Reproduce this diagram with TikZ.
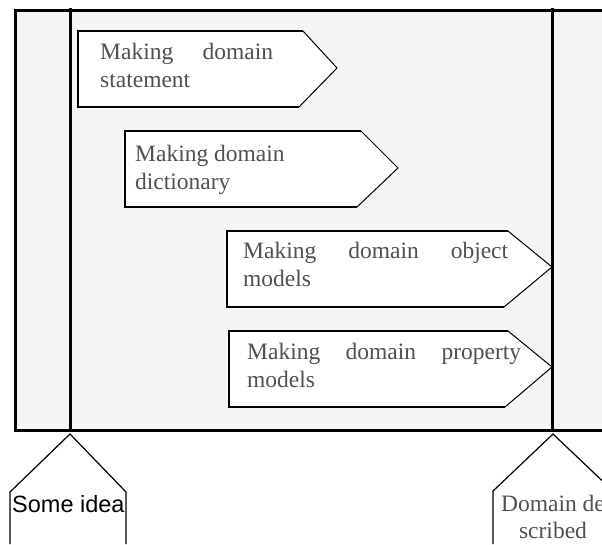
\documentclass[tikz,border=0pt]{standalone}
\usepackage{fontspec}
\setmainfont{Liberation Serif}
\newfontfamily\labelsans{Liberation Sans}
\definecolor{lanefill}{RGB}{245,245,245}
\definecolor{inktext}{RGB}{80,80,80}

\tikzset{
  laneline/.style={line width=3pt, black},
  boxedge/.style={line width=1.8pt, black, line join=miter},
  boxtip/.style={line width=1pt, black},
  tagline/.style={line width=1.2pt, black},
  steptext/.style={inner sep=0pt, text=inktext,
    font=\fontsize{23.5}{28.5}\selectfont},
  ideatext/.style={inner sep=0pt, text=black,
    font=\labelsans\fontsize{23.5}{28}\selectfont},
  resulttext/.style={inner sep=0pt, text=inktext,
    font=\fontsize{23.5}{27}\selectfont},
}

% process arrow: left, top, bottom, notch x (top), notch x (bottom), tip x, tip y
\newcommand\procbox[7]{%
  \fill[white] (#1,#2) -- (#4,#2) -- (#6,#7) -- (#5,#3) -- (#1,#3) -- cycle;
  \draw[boxedge] (#5,#3) -- (#1,#3) -- (#1,#2) -- (#4,#2);
  \draw[boxtip] (#4,#2) -- (#6,#7) -- (#5,#3);
}

\begin{document}
\begin{tikzpicture}[x=1pt, y=-1pt]
  \useasboundingbox (0,0) rectangle (602,544);
  \clip (0,0) rectangle (602,544);

  % swim lane background and frame
  \fill[lanefill] (15,10) rectangle (602,430);
  \draw[laneline] (602,10) -- (15,10) -- (15,430) -- (602,430);
  \draw[laneline] (70,8) -- (70,432);
  \draw[laneline] (552,8) -- (552,432);

  % process steps
  \procbox{78}{31}{107}{303}{299}{337}{68}
  \node[steptext, anchor=base west] (stmt) at (100,59)
    {\parbox[t]{173pt}{\makebox[173pt][s]{Making domain}\\statement}};

  \procbox{125}{131}{207}{361}{357}{398}{168}
  \node[steptext, anchor=base west] (dict) at (135,161)
    {\parbox[t]{200pt}{Making domain\\dictionary}};

  \procbox{227}{231}{307}{508}{504}{552}{267}
  \node[steptext, anchor=base west] (objm) at (243,258)
    {\parbox[t]{265pt}{\makebox[265pt][s]{Making domain object}\\models}};

  \procbox{229}{331}{407}{508}{505}{552}{367}
  \node[steptext, anchor=base west] (propm) at (247,359)
    {\parbox[t]{274pt}{\makebox[274pt][s]{Making domain property}\\models}};

  % start and end markers
  \draw[tagline] (10,544) -- (10,492) -- (70,434) -- (126,492) -- (126,544);
  \node[ideatext, anchor=base west] (idea) at (12,512) {Some idea};

  \draw[tagline] (493,544) -- (493,491) -- (553,434) -- (613,491) -- (613,544);
  \node[resulttext, anchor=base] (done) at (553,511)
    {\parbox[t]{130pt}{\centering Domain de\\scribed}};
\end{tikzpicture}
\end{document}
